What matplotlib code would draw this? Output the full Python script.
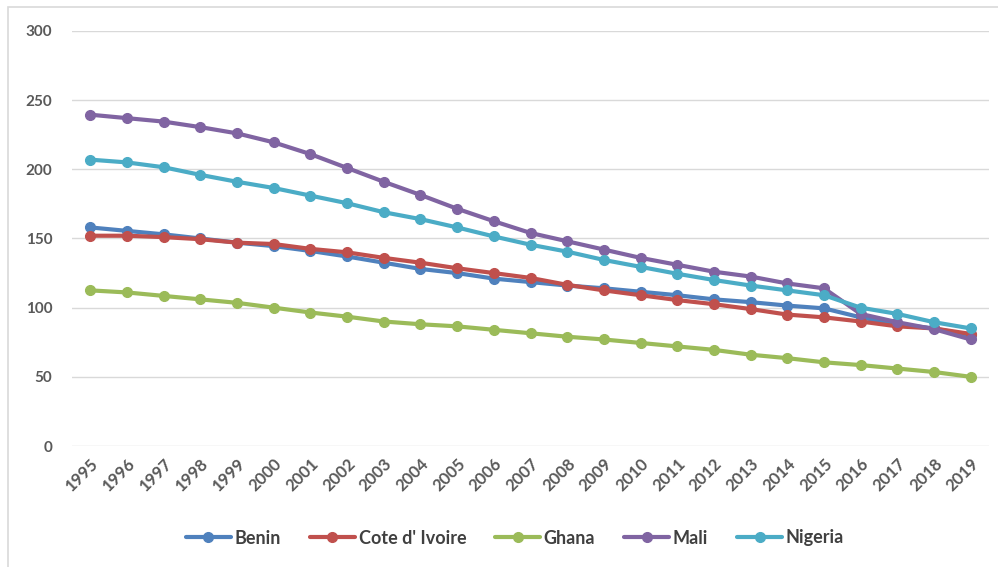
import matplotlib.pyplot as plt
from matplotlib.patches import Rectangle

years = [str(y) for y in range(1995, 2020)]

benin = [158, 155.5, 153, 150, 147, 144.5, 141, 137, 132.5, 128, 125, 121, 118.5,
         116, 114, 111.5, 109, 106, 104, 101.5, 99.5, 93, 88, 85, 80]
cote_divoire = [152, 152, 151, 149.5, 147, 146, 142.5, 140, 136, 132.5, 128.5, 125,
                121.5, 116.5, 112.5, 109, 105.5, 102.5, 99, 95, 93, 90, 86.5, 85, 81]
ghana = [112.5, 111, 108.5, 106, 103.5, 100, 96.5, 93.5, 90, 88, 86.5, 84, 81.5,
         79, 77, 74.5, 72, 69.5, 66, 63.5, 60.5, 58.5, 56, 53.5, 50]
mali = [239.5, 237, 234.5, 230.5, 226, 219.5, 211, 201, 191, 181.5, 171.5, 162.5,
        154, 148, 142, 136, 131, 126, 122.5, 117.5, 114, 95.5, 89.5, 84.5, 77]
nigeria = [207, 205, 201.5, 196, 191, 186.5, 181, 175.5, 169, 164, 158, 151.5,
           145.5, 140.5, 134.5, 129.5, 124.5, 120, 116, 112.5, 109, 100, 95.5, 89.5, 85]

series = [
    ("Benin", benin, "#4F81BD"),
    ("Cote d' Ivoire", cote_divoire, "#C0504D"),
    ("Ghana", ghana, "#9BBB59"),
    ("Mali", mali, "#8064A2"),
    ("Nigeria", nigeria, "#4BACC6"),
]

plt.rcParams["font.family"] = ["Lato", "DejaVu Sans"]

fig = plt.figure(figsize=(9.98, 5.67), dpi=100)
ax = fig.add_axes([72 / 998, 1 - 446 / 567, 917 / 998, 415 / 567])

# light frame around the whole chart
fig.patches.append(Rectangle((8 / 998, -0.1), 1.1, 1 - 7 / 567 + 0.1,
                             transform=fig.transFigure, fill=False,
                             edgecolor="#d9d9d9", linewidth=1.2))

x = list(range(len(years)))
for name, vals, color in series:
    ax.plot(x, vals, color=color, linewidth=3, marker="o", markersize=7,
            label=name, solid_capstyle="round")

ax.set_xlim(-0.5, len(years) - 0.5)
ax.set_ylim(0, 300)
ax.set_yticks(range(0, 301, 50))
ax.set_xticks(x)
ax.set_xticklabels(years, rotation=45, ha="right", rotation_mode="anchor")
ax.grid(axis="y", color="#d9d9d9", linewidth=1)
ax.set_axisbelow(True)
for s in ax.spines.values():
    s.set_visible(False)
ax.tick_params(axis="both", length=0, colors="#595959")
ax.tick_params(axis="y", pad=14, labelsize=11)
ax.tick_params(axis="x", pad=7, labelsize=12)
for lbl in ax.get_xticklabels() + ax.get_yticklabels():
    lbl.set_fontweight("bold")

leg = fig.legend(loc="center", bbox_to_anchor=(515 / 998, 1 - 538 / 567), ncol=5,
                 frameon=False, fontsize=13, handlelength=2.5, columnspacing=1.6,
                 handletextpad=0.2)
for t in leg.get_texts():
    t.set_color("#404040")
    t.set_fontweight("bold")

fig.savefig("out.png", dpi=100)
